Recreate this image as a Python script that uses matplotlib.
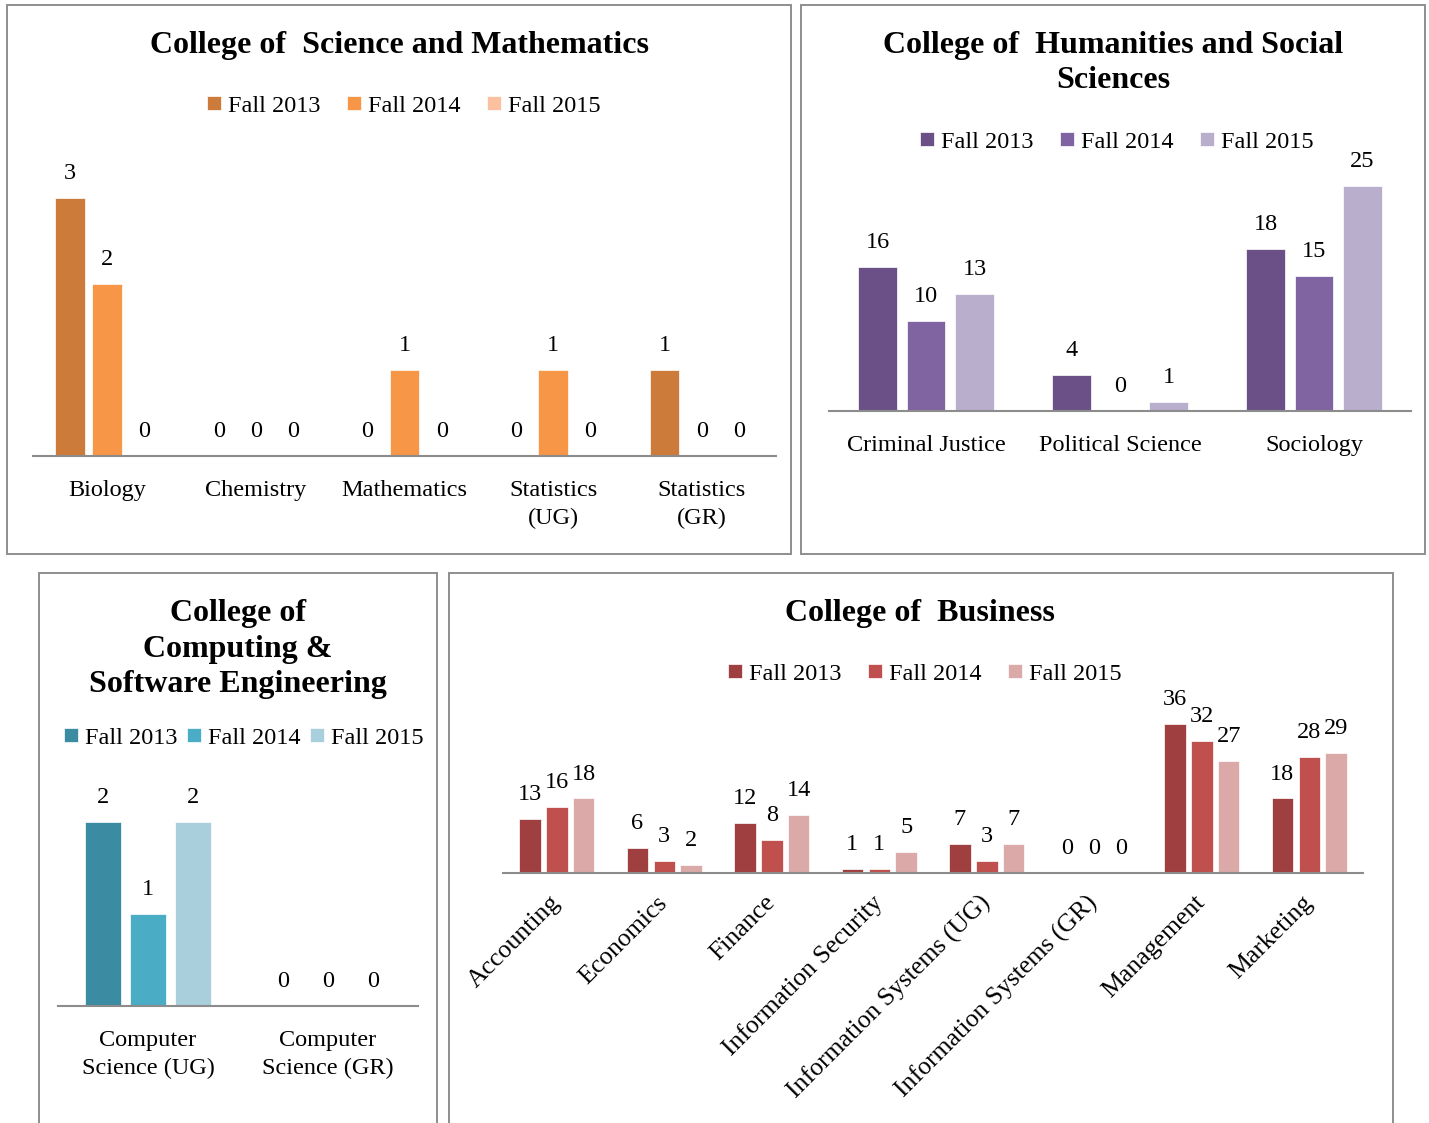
import matplotlib.pyplot as plt
import matplotlib.patches as mpatches
import numpy as np

plt.rcParams['font.family'] = ['Liberation Serif', 'DejaVu Serif']

W, H = 1429, 1123
series = ["Fall 2013", "Fall 2014", "Fall 2015"]

# College of Science and Mathematics
sci_cats = ["Biology", "Chemistry", "Mathematics", "Statistics\n(UG)", "Statistics\n(GR)"]
sci_2013 = [3, 0, 0, 0, 1]
sci_2014 = [2, 0, 1, 1, 0]
sci_2015 = [0, 0, 0, 0, 0]

# College of Humanities and Social Sciences
hum_cats = ["Criminal Justice", "Political Science", "Sociology"]
hum_2013 = [16, 4, 18]
hum_2014 = [10, 0, 15]
hum_2015 = [13, 1, 25]

# College of Computing & Software Engineering
cse_cats = ["Computer\nScience (UG)", "Computer\nScience (GR)"]
cse_2013 = [2, 0]
cse_2014 = [1, 0]
cse_2015 = [2, 0]

# College of Business
bus_cats = ["Accounting", "Economics", "Finance", "Information Security",
            "Information Systems (UG)", "Information Systems (GR)",
            "Management", "Marketing"]
bus_2013 = [13, 6, 12, 1, 7, 0, 36, 18]
bus_2014 = [16, 3, 8, 1, 3, 0, 32, 28]
bus_2015 = [18, 2, 14, 5, 7, 0, 27, 29]

orange = ["#CC7B3A", "#F79646", "#FAC09F"]
purple = ["#6A5087", "#8064A2", "#B9AECB"]
teal = ["#3B8BA2", "#4BACC6", "#A9CFDD"]
red = ["#A03F3F", "#C0504D", "#DBA9A8"]

FS = 17.5
TFS = 23

fig = plt.figure(figsize=(W / 100, H / 100), dpi=100)


def fx(x):
    return x / W


def fy(y):
    return 1 - y / H


def border(x0, y0, x1, y1):
    r = mpatches.Rectangle((fx(x0), fy(y1)), fx(x1) - fx(x0), fy(y0) - fy(y1),
                           transform=fig.transFigure, fill=False,
                           edgecolor="#8E8E8E", lw=1.4)
    fig.patches.append(r)


def panel(left, right, base, unit, ymax, cats, vals, colors, title, ty, tx,
          lx, ly, colsp=1.1, rot=False):
    top = base - unit * ymax
    ax = fig.add_axes([fx(left), fy(base), fx(right) - fx(left), fy(top) - fy(base)])
    x = np.arange(len(cats))
    for i, (v, c, s) in enumerate(zip(vals, colors, series)):
        xs = x + (i - 1) * 0.25
        ax.bar(xs, v, width=0.2, color=c, label=s, edgecolor="white", linewidth=0.5)
        for xi, vi in zip(xs, v):
            ax.annotate(str(vi), (xi, vi), xytext=(0, 10), textcoords="offset points",
                        ha="center", va="bottom", fontsize=FS)
    ax.set_xlim(-0.5, len(cats) - 0.5)
    ax.set_ylim(0, ymax)
    ax.set_yticks([])
    for s in ["top", "left", "right"]:
        ax.spines[s].set_visible(False)
    ax.spines["bottom"].set_color("#8C8C8C")
    ax.spines["bottom"].set_linewidth(1.5)
    ax.set_xticks(x)
    if rot:
        ax.set_xticklabels(cats, rotation=45, ha="right", va="center",
                           rotation_mode="anchor", fontsize=18.5)
        ax.tick_params(axis="x", length=0, pad=19)
        for lab in ax.get_xticklabels():
            lab.set_x(lab.get_position()[0])
    else:
        ax.set_xticklabels(cats, fontsize=FS, linespacing=1.45)
        ax.tick_params(axis="x", length=0, pad=17)
    ax.patch.set_alpha(0)
    fig.text(fx(tx), fy(ty), title, ha="center", va="center", fontsize=TFS,
             fontweight="bold", linespacing=1.3)
    h, l = ax.get_legend_handles_labels()
    fig.legend(h, l, loc="center", bbox_to_anchor=(fx(lx), fy(ly)), ncol=3,
               frameon=False, fontsize=FS, handlelength=0.55, handleheight=0.55,
               handletextpad=0.3, columnspacing=colsp)
    return ax


border(7, 5, 791, 554)
border(801, 5, 1425, 554)
border(39, 573, 437, 1140)
border(449, 573, 1393, 1140)

panel(33, 776, 456, 86, 3.5, sci_cats, [sci_2013, sci_2014, sci_2015], orange,
      "College of  Science and Mathematics", 46, 399, 404, 106)
panel(829, 1411, 411, 9.0, 28, hum_cats, [hum_2013, hum_2014, hum_2015], purple,
      "College of  Humanities and Social\nSciences", 63, 1113, 1117, 142)
panel(58, 418, 1006, 92, 2.5, cse_cats, [cse_2013, cse_2014, cse_2015], teal,
      "College of\nComputing &\nSoftware Engineering", 649, 238, 244, 738,
      colsp=0.4)
panel(503, 1363, 873, 4.14, 40, bus_cats, [bus_2013, bus_2014, bus_2015], red,
      "College of  Business", 614, 920, 925, 674, rot=True)

fig.savefig("out.png", dpi=100)
